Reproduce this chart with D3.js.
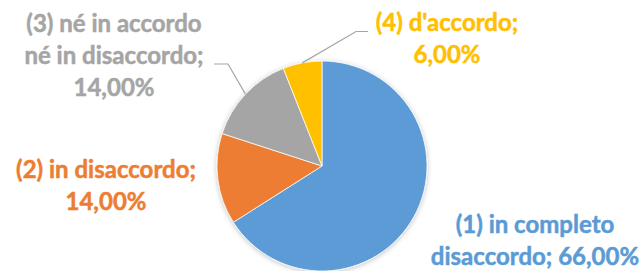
<!DOCTYPE html>
<html>
<head>
<meta charset="utf-8">
<script src="https://cdn.jsdelivr.net/npm/d3@7"></script>
<style>
    html, body { margin: 0; padding: 0; background: #fff; }
    svg { display: block; }
    .lbl { font-family: Lato, "Open Sans", sans-serif; font-weight: bold; font-size: 24px; }
</style>
</head>
<body>
<div id="chart"></div>
<script>
// Chart data.
var categories = ['(1) in completo disaccordo', '(2) in disaccordo', '(3) né in accordo né in disaccordo', "(4) d'accordo"];
var values = [66, 14, 14, 6];

var colors = ['#5b9bd5', '#ed7d31', '#a5a5a5', '#ffc000'];

// Label layout: words per line, first baseline offset from pie centre, leader line.
var labelLayout = [
    { words: [3, 2], dx: 213, dy: 67 },
    { words: [3, 1], dx: -216, dy: 12 },
    { words: [4, 3, 1], dx: -208, dy: -134, leader: [[-94, -102], [-108, -102]] },
    { words: [2, 1], dx: 125, dy: -135, leader: [[34, -134.5], [46, -134.5]] }
];

var width = 644, height = 271;
var cx = 322, cy = 166, radius = 105;
var lineHeight = 32;

var it = d3.formatLocale({ decimal: ',', thousands: '.', grouping: [3], currency: ['€', ''] });
var fmt = it.format('.2f');

var data = categories.map((c, i) => ({ name: c, value: values[i], color: colors[i], layout: labelLayout[i] }));

var svg = d3.select('#chart').append('svg')
    .attr('width', width)
    .attr('height', height);

// Soft shadow like the Office pie.
var filter = svg.append('defs').append('filter')
    .attr('id', 'shadow')
    .attr('x', '-20%').attr('y', '-20%')
    .attr('width', '140%').attr('height', '140%');
filter.append('feDropShadow')
    .attr('dx', 0).attr('dy', 1)
    .attr('stdDeviation', 2.5)
    .attr('flood-color', '#000')
    .attr('flood-opacity', 0.25);

var g = svg.append('g').attr('transform', 'translate(' + cx + ',' + cy + ')');

var pieGenerator = d3.pie()
    .value(d => d.value)
    .sort(null);

var arcGenerator = d3.arc()
    .innerRadius(0)
    .outerRadius(radius);

var arcs = pieGenerator(data);

// Slices.
g.append('g')
    .attr('filter', 'url(#shadow)')
    .selectAll('path')
    .data(arcs)
    .enter()
    .append('path')
    .attr('d', arcGenerator)
    .attr('fill', d => d.data.color)
    .attr('stroke', '#fff')
    .attr('stroke-width', 0.75);

// Leader lines.
g.selectAll('polyline.leader')
    .data(arcs.filter(d => d.data.layout.leader))
    .enter()
    .append('polyline')
    .attr('class', 'leader')
    .attr('fill', 'none')
    .attr('stroke', '#a6a6a6')
    .attr('stroke-width', 1.2)
    .attr('points', d => {
        var a = (d.startAngle + d.endAngle) / 2;
        var p0 = [radius * Math.sin(a), -radius * Math.cos(a)];
        return [p0].concat(d.data.layout.leader).map(p => p.join(',')).join(' ');
    });

// Labels, split into lines by word count.
function labelLines(d) {
    var words = (d.name + '; ' + fmt(d.value) + '%').split(' ');
    var lines = [];
    var k = 0;
    d.layout.words.forEach(n => {
        lines.push(words.slice(k, k + n).join(' '));
        k += n;
    });
    return lines;
}

var labels = g.selectAll('text.lbl')
    .data(arcs)
    .enter()
    .append('text')
    .attr('class', 'lbl')
    .attr('fill', d => d.data.color)
    .attr('stroke', d => d.data.color)
    .attr('stroke-width', 0.5)
    .attr('text-anchor', 'middle');

labels.selectAll('tspan')
    .data(d => labelLines(d.data).map((t, i) => ({ t: t, i: i, lay: d.data.layout })))
    .enter()
    .append('tspan')
    .attr('x', d => d.lay.dx)
    .attr('y', d => d.lay.dy + d.i * lineHeight)
    .text(d => d.t);
</script>
</body>
</html>
